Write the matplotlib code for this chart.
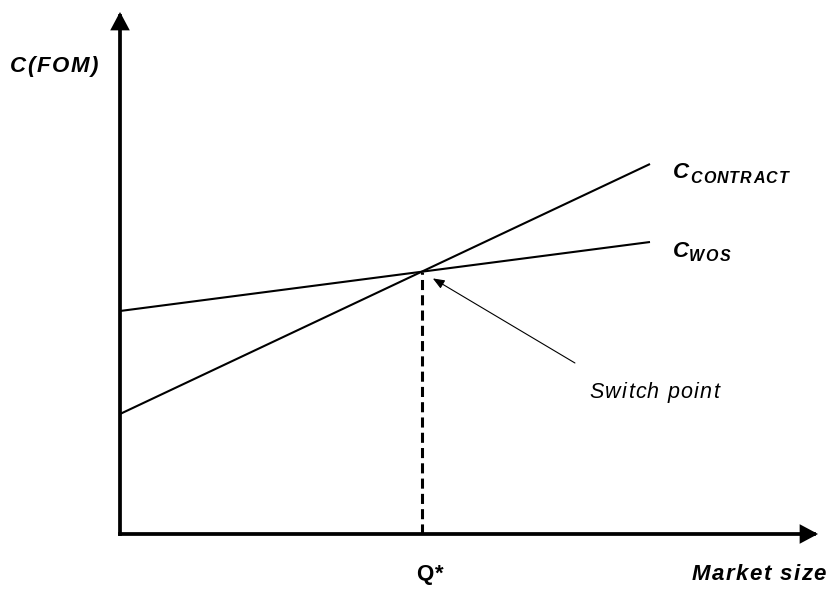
import matplotlib
matplotlib.use("Agg")
import matplotlib.pyplot as plt
from matplotlib.patches import FancyArrowPatch
from matplotlib.font_manager import FontProperties, findfont, get_font
from matplotlib.transforms import offset_copy

DPI = 100

# ---- data (abstract units) ----
market_size = [0.0, 10.0]
c_wos = [4.46, 5.84]
c_contract = [2.40, 7.40]
x_axis_end = 13.17
y_axis_end = 10.44

y_label = "C(FOM)"
x_label = "Market size"
q_label = "Q*"
switch_label = "Switch point"
contract_sub = "CONTRACT"
wos_sub = "WOS"

# intersection (switch point)
s_w = (c_wos[1] - c_wos[0]) / (market_size[1] - market_size[0])
s_c = (c_contract[1] - c_contract[0]) / (market_size[1] - market_size[0])
q_star = (c_wos[0] - c_contract[0]) / (s_c - s_w)
y_star = c_wos[0] + s_w * q_star

fig = plt.figure(figsize=(8.28, 5.89), dpi=DPI)
ax = fig.add_axes([0, 0, 1, 1])
ax.set_xlim(-120 / 53, 708 / 53)
ax.set_ylim(-55 / 50, 534 / 50)
ax.axis("off")


def px(xp, yp):
    return ((xp - 120) / 53, (534 - yp) / 50)


def tracked_text(x, y, s, size, weight="normal", style="normal", spacing_px=0.0):
    fp = FontProperties(family="Liberation Sans", size=size, weight=weight, style=style)
    font = get_font(findfont(fp))
    font.set_size(size, DPI)
    cur = 0.0
    for ch in s:
        if ch != " ":
            tr = offset_copy(ax.transData, fig=fig, x=cur * 72 / DPI, y=0, units="points")
            ax.text(x, y, ch, transform=tr, fontproperties=fp, ha="left",
                    va="baseline", color="black")
        g = font.load_char(ord(ch))
        cur += g.linearHoriAdvance / 65536 + spacing_px


# axes with arrows
for start, end in [((0, 0), (x_axis_end, 0)), ((0, 0), (0, y_axis_end))]:
    ax.add_patch(FancyArrowPatch(start, end,
                                 arrowstyle="-|>,head_length=0.45,head_width=0.24",
                                 mutation_scale=20, lw=2.7, color="black",
                                 shrinkA=0, shrinkB=0, joinstyle="miter",
                                 capstyle="projecting"))

# cost lines
ax.plot(market_size, c_wos, color="black", lw=1.5, solid_capstyle="butt")
ax.plot(market_size, c_contract, color="black", lw=1.5, solid_capstyle="butt")

# dashed drop line at Q*
ax.plot([q_star, q_star], [0, y_star], color="black", lw=2.2,
        ls=(0, (3.3, 1.7)))

# switch point arrow
ax.annotate("", xy=(q_star, y_star), xytext=(110.4, -65.7), textcoords="offset points",
            arrowprops=dict(arrowstyle="-|>,head_length=0.5,head_width=0.2",
                            mutation_scale=14, lw=0.8, color="black",
                            shrinkA=0, shrinkB=9.4))

# labels
tracked_text(*px(10, 72), y_label, 16, "bold", "italic", 1.6)
tracked_text(*px(692, 580), x_label, 16, "bold", "italic", 1.4)
tracked_text(*px(416, 580), q_label, 16, "bold", "normal", 1.5)
tracked_text(*px(589, 398), switch_label, 15.5, "normal", "italic", 1.3)
tracked_text(*px(673, 178), "C", 16, "bold", "italic", 0)
tracked_text(*px(690, 183), contract_sub, 11.5, "bold", "italic", 1.2)
tracked_text(*px(673, 257), "C", 16, "bold", "italic", 0)
tracked_text(*px(689, 261), wos_sub, 11.5, "bold", "italic", 1.5)

fig.savefig("out.png", dpi=DPI)
